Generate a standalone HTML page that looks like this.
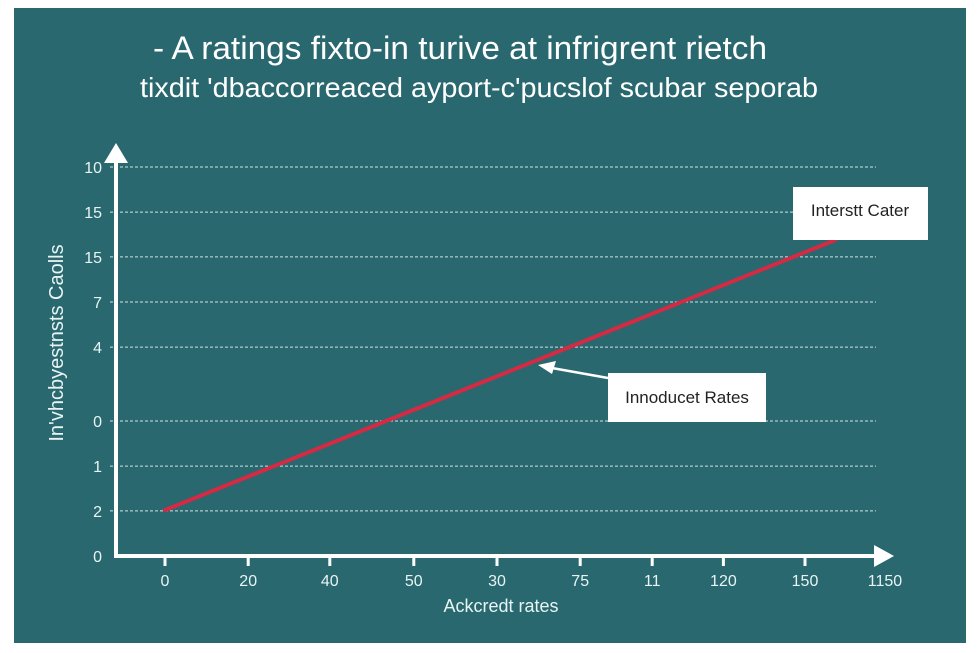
<!DOCTYPE html>
<html><head><meta charset="utf-8"><style>
body{margin:0;background:#fff;width:980px;height:653px;overflow:hidden}
svg{display:block}
text{font-family:"Liberation Sans",sans-serif}
</style></head><body>
<svg width="980" height="653">
<rect x="14" y="8" width="952" height="635" fill="#29686f"/>
<text x="460" y="59" text-anchor="middle" font-size="32" fill="#fff" textLength="614" lengthAdjust="spacingAndGlyphs">- A ratings fixto-in turive at infrigrent rietch</text>
<text x="479" y="97" text-anchor="middle" font-size="28" fill="#fff" textLength="678" lengthAdjust="spacingAndGlyphs">tixdit ʹdbaccorreaced ayport-cʹpucslof scubar seporab</text>
<g id="grid"></g>
<g id="axes"></g>
<g id="marks"></g>
<text transform="translate(63,343) rotate(-90)" text-anchor="middle" font-size="20" fill="#e8f4f4">Inʹvhcbyestnsts Caolls</text>
<text x="501" y="612" text-anchor="middle" font-size="18" fill="#e8f4f4">Ackcredt rates</text>
<rect x="793" y="187" width="135" height="53" fill="#fff"/>
<text x="860" y="216" text-anchor="middle" font-size="17" fill="#222">Interstt Cater</text>
<line x1="608" y1="378" x2="552" y2="368" stroke="#fff" stroke-width="2.5"/>
<polygon points="538,365 556,361 552,374" fill="#fff"/>
<rect x="608" y="373" width="158" height="49" fill="#fff"/>
<text x="687" y="403" text-anchor="middle" font-size="17" fill="#222">Innoducet Rates</text>
</svg>
<script>
const yTickLabels=["10","15","15","7","4","0","1","2","0"];
const yTickValues=[10,8.84,7.69,6.53,5.37,3.47,2.31,1.16,0];
const xTickLabels=["0","20","40","50","30","75","11","120","150","1150"];
const xTickValues=[0,1.04,2.06,3.11,4.15,5.19,6.09,6.98,8.0,9.0];
const seriesX=[0,8.375];
const seriesY=[1.18,8.12];
const NS="http://www.w3.org/2000/svg";
function xs(v){return 165+v*80;}
function ys(v){return 556-v*38.9;}
function mk(t,a,p){const e=document.createElementNS(NS,t);for(const k in a)e.setAttribute(k,a[k]);p.appendChild(e);return e;}
const grid=document.getElementById('grid'),axes=document.getElementById('axes'),marks=document.getElementById('marks');
yTickValues.forEach((v,i)=>{
 if(v>0){const l=mk('line',{x1:110,x2:876,y1:ys(v),y2:ys(v),stroke:'#cfe3e3','stroke-width':1,'stroke-dasharray':'3,2'},grid);
 
 }
 const t=mk('text',{x:102,y:ys(v)+6,'text-anchor':'end','font-size':16,fill:'#e8f4f4'},axes);
 t.textContent=yTickLabels[i];
 
 
});
xTickValues.forEach((v,i)=>{
 if(i<xTickValues.length-1){const k=mk('line',{x1:xs(v),x2:xs(v),y1:556,y2:566,stroke:'#fff','stroke-width':3},axes);
 
 }
 const t=mk('text',{x:xs(v),y:586,'text-anchor':'middle','font-size':16,fill:'#e8f4f4'},axes);
 t.textContent=xTickLabels[i];
 
 
});
const ya=mk('path',{d:'M116,158 L116,556 L880,556',fill:'none',stroke:'#fff','stroke-width':4},axes);


const ah1=mk('polygon',{points:'116,143 104,163 128,163',fill:'#fff'},axes);


const ah2=mk('polygon',{points:'894,556 874,545 874,567',fill:'#fff'},axes);


const pts=seriesX.map((x,i)=>xs(x)+','+ys(seriesY[i])).join(' ');
const ln=mk('polyline',{points:pts,fill:'none',stroke:'#d42a43','stroke-width':4,'stroke-linecap':'round'},marks);


</script>
</body></html>
